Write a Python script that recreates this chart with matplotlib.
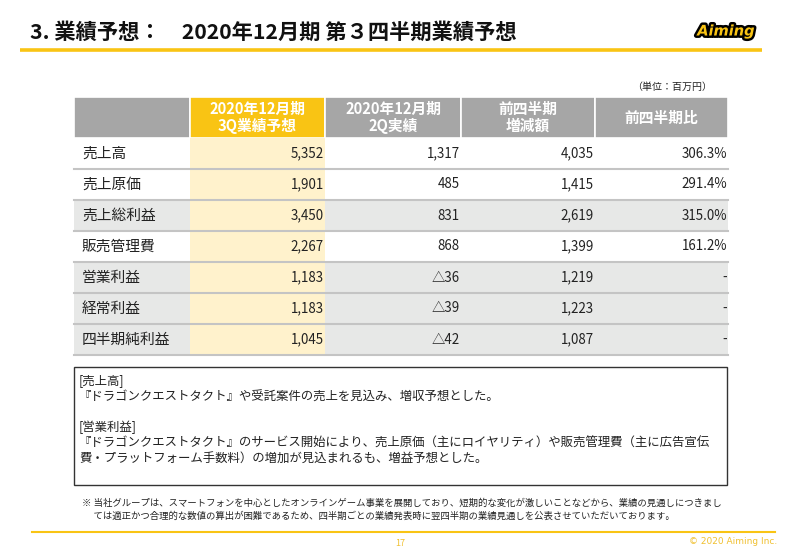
import matplotlib
matplotlib.use("Agg")
import matplotlib.pyplot as plt
from matplotlib.patches import Rectangle
import matplotlib.patheffects as pe

plt.rcParams['font.family'] = ['Noto Sans CJK JP', 'DejaVu Sans']

# table data (unit: million yen)
items = ['売上高', '売上原価', '売上総利益', '販売管理費', '営業利益', '経常利益', '四半期純利益']
q3_forecast = [5352, 1901, 3450, 2267, 1183, 1183, 1045]
q2_actual = [1317, 485, 831, 868, -36, -39, -42]
qoq_change = [4035, 1415, 2619, 1399, 1219, 1223, 1087]
qoq_ratio = [306.3, 291.4, 315.0, 161.2, None, None, None]
headers = ['', '2020年12月期\n3Q業績予想', '2020年12月期\n2Q実績', '前四半期\n増減額', '前四半期比']
shaded = [False, False, True, False, True, True, True]

title = '3. 業績予想：　2020年12月期 第３四半期業績予想'
unit = '（単位：百万円）'
notes = ['[売上高]',
         '『ドラゴンクエストタクト』や受託案件の売上を見込み、増収予想とした。',
         '',
         '[営業利益]',
         '『ドラゴンクエストタクト』のサービス開始により、売上原価（主にロイヤリティ）や販売管理費（主に広告宣伝',
         '費・プラットフォーム手数料）の増加が見込まれるも、増益予想とした。']
footnote = ['※ 当社グループは、スマートフォンを中心としたオンラインゲーム事業を展開しており、短期的な変化が激しいことなどから、業績の見通しにつきまし',
            '　 ては適正かつ合理的な数値の算出が困難であるため、四半期ごとの業績発表時に翌四半期の業績見通しを公表させていただいております。']


def fmt_num(v):
    if v < 0:
        return '△{:,}'.format(-v)
    return '{:,}'.format(v)


def fmt_pct(v):
    return '-' if v is None else '{:.1f}%'.format(v)


YELLOW = '#F9C414'
HEAD_GRAY = '#A6A6A6'
LIGHT_Y = '#FFF2CC'
ROW_GRAY = '#E7E8E7'
LINE_GRAY = '#C4C4C4'
TXT = '#222222'

fig = plt.figure(figsize=(8, 5.53), dpi=100)
ax = fig.add_axes([0, 0, 1, 1])
ax.set_xlim(0, 800)
ax.set_ylim(553, 0)
ax.axis('off')

# title bar
ax.text(30, 32, title, fontsize=15.3, fontweight='bold', color='#111111', va='center', ha='left')
ax.plot([20, 762], [50, 50], color=YELLOW, lw=2.6, solid_capstyle='butt')
logo = ax.text(726, 31, 'Aiming', fontsize=10.5, fontweight='bold', style='italic',
               family='DejaVu Sans', color=YELLOW, ha='center', va='center')
logo.set_path_effects([pe.Stroke(linewidth=3.5, foreground='black'), pe.Normal()])

ax.text(712, 87, unit, fontsize=7.2, color=TXT, ha='right', va='center')

# table layout
col_x = [74, 190, 325, 461, 595, 728]
head_top, head_bot = 97, 138
row_h = 31
n = len(items)

for j in range(5):
    ax.add_patch(Rectangle((col_x[j], head_top), col_x[j + 1] - col_x[j], head_bot - head_top,
                           facecolor=YELLOW if j == 1 else HEAD_GRAY, edgecolor='white', lw=1.2))
    if headers[j]:
        ax.text((col_x[j] + col_x[j + 1]) / 2, (head_top + head_bot) / 2, headers[j], color='white',
                fontsize=10.6, fontweight='bold', ha='center', va='center', linespacing=1.05)

for i in range(n):
    top = head_bot + i * row_h
    ax.add_patch(Rectangle((col_x[0], top), col_x[-1] - col_x[0], row_h,
                           facecolor=ROW_GRAY if shaded[i] else 'white', edgecolor='none'))
    ax.add_patch(Rectangle((col_x[1], top), col_x[2] - col_x[1], row_h,
                           facecolor=LIGHT_Y, edgecolor='none'))
    ax.plot([col_x[0], col_x[-1]], [top + row_h, top + row_h], color=LINE_GRAY, lw=1.5)
    yc = top + row_h / 2
    ax.text(82, yc, items[i], fontsize=10.6, color=TXT, ha='left', va='center')
    vals = [fmt_num(q3_forecast[i]), fmt_num(q2_actual[i]), fmt_num(qoq_change[i]), fmt_pct(qoq_ratio[i])]
    for j, s in enumerate(vals):
        ax.text(col_x[j + 2] - 1, yc, s, fontsize=9.6, color=TXT, ha='right', va='center')

# comment box
ax.add_patch(Rectangle((74, 367), 653, 118, facecolor='white', edgecolor='#333333', lw=1))
ys = [381, 397, 412, 427, 443, 459]
for y, s in zip(ys, notes):
    if s:
        ax.text(79, y, s, fontsize=8.95, color=TXT, ha='left', va='center')

for k, s in enumerate(footnote):
    ax.text(82, 503 + k * 13, s, fontsize=6.75, color=TXT, ha='left', va='center')

# footer
ax.plot([32, 775], [532, 532], color=YELLOW, lw=1.5)
ax.text(400, 543, '17', fontsize=6.5, color='#F0C030', ha='center', va='center')
ax.text(777, 542, '© 2020 Aiming Inc.', fontsize=6.5, color='#F0C030', ha='right', va='center',
        family='DejaVu Sans')

fig.savefig('out.png', dpi=100)
